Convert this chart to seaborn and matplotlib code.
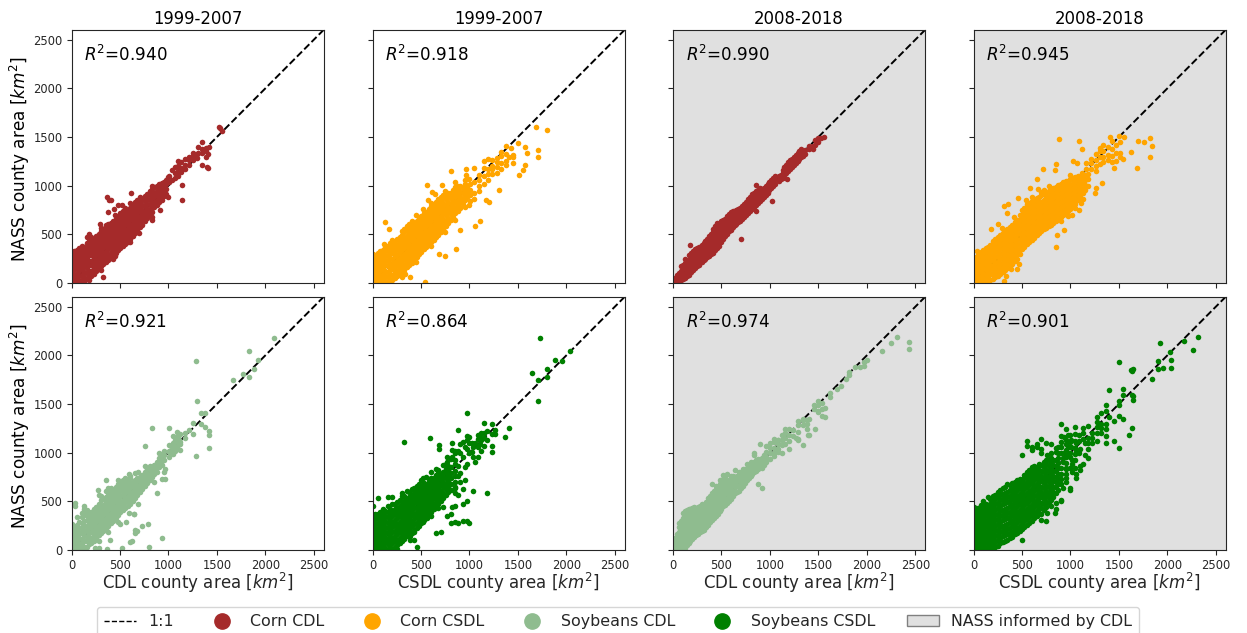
import matplotlib
matplotlib.use("Agg")
import matplotlib.pyplot as plt
from matplotlib.lines import Line2D
from matplotlib.patches import Patch
import pandas as pd
import seaborn as sns

# each entry: (x value, [y values read at that x])
corn_cdl_early = [
(8,[5,55,105,155,205,255,310]),(55,[0,45,95,150,200,250,300,340]),(105,[0,30,85,140,195,250,300,350,385]),
(155,[45,100,150,205,255,310,360,410]),(205,[70,125,180,230,285,340,390,440,470]),(255,[120,175,230,285,335,390,440,480]),
(305,[170,220,275,330,380,435,480,530]),(355,[215,270,320,375,430,480,530,590,600]),(405,[260,310,365,420,470,525,575,620]),
(455,[310,360,415,470,520,570,620,660]),(505,[355,410,460,515,570,620,670,720]),(555,[400,455,510,560,615,665,720,770]),
(605,[450,505,555,610,660,715,770]),(655,[510,565,615,670,720,770,830]),(705,[575,625,680,730,780,830,880]),
(755,[640,690,740,790,840,890]),(805,[700,750,800,850,900,950]),(855,[780,830,880,930,985]),(905,[830,880,930,970,1015]),
(955,[890,940,990,1040]),(1010,[1040,1100]),(1040,[1060,1160]),(1070,[1080,1130,1190]),(1100,[1100,1150,1200,1250]),
(1130,[1140,1185,1240]),(1170,[1170,1215,1270]),(1210,[1210,1260,1300]),(1250,[1260,1310,1340]),(1290,[1280,1330]),
(1300,[1340,1400]),(1350,[1340,1380,1450]),(1390,[1300,1360,1390]),(1346,[1212]),(1397,[1195]),(1405,[1178]),(1410,[1325]),
(1422,[1394]),(1524,[1608]),(1536,[1590]),(1557,[1567]),(371,[882]),(388,[856]),(409,[850]),(325,[65]),(430,[248]),
(1135,[850,1005]),(924,[1015]),(616,[930]),(831,[650]),(916,[754]),(692,[513]),(574,[454]),(376,[730]),(439,[765]),
(291,[610]),(165,[472]),(480,[800]),(520,[800]),
]
corn_cdl_early_core = [
(30,[30,80,130,180,230,280,325]),(80,[20,70,120,175,225,275,320,360]),(130,[15,60,115,170,225,280,330,370]),
(180,[70,125,180,230,285,335,385,430]),(230,[95,150,205,260,310,365,415,455]),(280,[145,200,255,310,360,415,460,505]),
(330,[195,250,300,355,405,455,505,555]),(380,[240,290,345,400,450,505,555,610]),(430,[285,340,390,445,495,550,600,640]),
(480,[335,385,440,495,545,595,645,690]),(530,[380,430,485,540,590,645,695,745]),(580,[425,480,530,585,640,690,745]),
(630,[480,535,585,640,690,745,800]),(680,[540,595,650,700,750,805,855]),(730,[600,655,705,755,805,860]),
(780,[665,715,765,815,865,915]),(830,[725,775,825,875,925,970]),(880,[805,855,905,950,1000]),(930,[855,905,950,995,1030]),
(980,[915,965,1015,1060]),
]
corn_cdl_early_fringe = [(1000,[1090,880]),(830,[680,1000]),(600,[420,820]),(450,[280,700]),(300,[130,570]),(180,[30,500])]
corn_csdl_early = [
(8,[5,55,105,155,205,255,300]),(55,[0,50,100,150,205,255,310]),(105,[0,40,95,150,205,260,310,335]),
(155,[10,60,115,170,225,280,330,385]),(205,[30,85,140,195,250,305,355,410,440]),(255,[70,125,180,235,290,345,395,450]),
(305,[110,170,225,280,335,390,440,495,530]),(355,[160,215,270,325,380,430,485,540,590]),(405,[210,265,320,375,430,480,535,590,635]),
(455,[270,325,380,430,485,540,590,640]),(505,[320,375,430,480,535,590,640,690]),(555,[370,425,480,535,590,640,695,730]),
(605,[420,475,530,585,640,695,750,790]),(655,[470,525,580,635,690,745,800,830]),(705,[520,575,630,685,740,795,850,880]),
(755,[590,640,695,750,805,860,905]),(805,[650,705,760,815,870,925]),(855,[720,775,830,885,940,985]),(905,[775,830,885,940,1000]),
(955,[850,905,960,1020]),(1005,[840,900,960,1020]),(1050,[860,930,1040]),(1100,[950,1000,1060,1110]),(1150,[1020,1100,1180,1250]),
(1190,[1060,1120,1170,1270]),(1230,[1120,1170,1200,1260]),(1280,[1130,1190,1240,1280]),(1330,[1170,1230,1310,1350]),(1380,[1210,1250,1330,1410]),
(1427,[1384]),(1406,[1298]),(1450,[1230,1320,1290]),(1503,[1443]),(1575,[1401,1212]),(1596,[1333]),(1511,[1109]),(1553,[1160]),
(1688,[1608]),(1798,[1570]),(1705,[1367,1298]),(131,[627]),(173,[558]),(118,[403]),(540,[7]),(392,[58]),(566,[1012]),(722,[1012]),
(616,[937]),(646,[919]),(570,[857]),(519,[764]),(810,[1153]),(962,[1171,1109]),(1047,[1184]),(857,[351]),(743,[282]),(688,[300]),
(1106,[633]),(1055,[589]),(899,[541]),(1173,[850]),(1300,[954]),(1200,[830]),(300,[60]),(340,[90]),
]
corn_csdl_early_core = [
(30,[30,80,130,180,230,280]),(80,[25,75,125,175,230,285,325]),(130,[20,70,125,180,235,285,340,370]),
(180,[35,90,145,200,255,310,360,410]),(230,[55,110,165,220,275,330,380,430]),(280,[90,150,205,260,315,370,420,475]),
(330,[135,190,245,300,355,410,465,520,560]),(380,[185,240,295,350,405,455,510,565,610]),(430,[240,295,350,405,455,510,565,615]),
(480,[295,350,405,455,510,565,615,665]),(530,[345,400,455,510,565,615,665,715]),(580,[395,450,505,560,615,670,720,760]),
(630,[445,500,555,610,665,720,775,810]),(680,[495,550,605,660,715,770,825,860]),(730,[550,605,660,715,770,825,880,900]),
(780,[620,670,725,780,835,890,930]),(830,[680,735,790,845,900,955]),(880,[745,800,855,910,965,1000]),(930,[810,865,920,975]),(980,[880,935,990]),
]
corn_csdl_early_fringe = [(1000,[1070,800]),(750,[950,520]),(600,[820,380]),(450,[700,220]),(850,[1040,650]),(950,[1060,780])]
corn_cdl_late = [
(5,[5,40]),(40,[10,55,85]),(85,[30,80,125,170]),(125,[55,100,150,205,245]),(165,[85,135,185,235,285]),(205,[130,175,225,280,330]),
(250,[170,215,265,315,360]),(295,[215,260,310,360,395]),(335,[250,300,350,410,430]),(375,[280,330,385,440,480]),(415,[310,365,420,475,525,560]),
(455,[360,410,465,520,590,615]),(495,[420,470,520,570,640]),(535,[480,525,575,620,660]),(575,[530,570,620,665,705]),(615,[575,620,665,710,740]),
(655,[610,655,700,750]),(695,[640,690,740,775]),(735,[680,725,775,810]),(775,[720,770,820,860]),(815,[760,810,865,910]),(855,[800,850,900,945]),
(895,[845,890,935,975]),(935,[880,930,975]),(975,[930,975,1020]),(1015,[980,1025,1060]),(1050,[1020,1065,1095]),(1090,[1050,1095]),
(1130,[1080,1130,1165]),(1170,[1130,1170,1215]),(1205,[1175,1220,1265]),(1245,[1215,1260,1290]),(1285,[1250,1290,1340]),(1320,[1290,1335,1375]),
(1360,[1325,1370]),(1400,[1380,1410]),(1440,[1375,1410]),(1465,[1420,1465]),(1500,[1450,1490]),(1530,[1490]),(1558,[1498]),
(176,[392]),(701,[454]),(1018,[840]),(1178,[1067]),(600,[540]),(860,[1010,740]),
]
corn_cdl_late_core = [
(20,[20,50]),(60,[25,70,105]),(105,[45,100,145,190]),(145,[75,125,170,220]),(185,[110,160,205,255,305]),(225,[150,200,250,300,345]),
(270,[190,240,290,335,375]),(315,[235,280,330,385,410]),(355,[265,315,365,420,450]),(395,[295,345,400,455,500]),(435,[335,390,445,495,545,590]),
(475,[385,440,495,545,610]),(515,[450,495,545,595,650]),(555,[505,550,600,640,685]),(595,[555,595,640,690,725]),(635,[595,640,685,730]),
(675,[625,670,720,760]),(715,[660,705,755,790]),(755,[700,745,795,835]),(795,[740,790,840,885]),(835,[780,830,880,925]),(875,[825,870,915,960]),
(915,[860,910,955]),(955,[905,950,1000]),(995,[955,1000,1040]),(1035,[1000,1045,1080]),(1110,[1065,1110]),(1150,[1105,1150,1190]),
(1190,[1150,1195,1240]),(1225,[1195,1240,1275]),(1265,[1230,1275,1315]),(1305,[1270,1315,1355]),(1340,[1305,1350]),
]
corn_cdl_late_fringe = []
corn_csdl_late = [
(5,[5,55,105,155,205,235]),(50,[0,50,100,150,200,250,290]),(100,[5,55,105,155,205,255,305,340]),(150,[15,65,115,165,215,265,315,365]),
(200,[40,90,140,190,240,290,340,390,430]),(250,[70,120,170,220,270,320,370,420,470]),(300,[110,160,210,260,310,360,410,460,510]),
(350,[150,200,250,300,350,400,450,500,555]),(400,[200,250,300,350,400,450,500,550,600]),(450,[250,300,350,400,450,500,550,600,650]),
(500,[350,400,450,500,550,600,650,700,750]),(550,[400,450,500,550,600,650,700,750,810]),(600,[440,490,540,590,640,690,740,790,840]),
(650,[490,540,590,640,690,740,790,840,870]),(700,[530,580,630,680,730,780,830,900]),(750,[570,620,670,720,770,820,870,930]),
(800,[600,650,700,750,800,850,900,960]),(850,[640,690,740,790,840,890,940,990]),(900,[680,730,780,830,880,930,980,1020]),(950,[713,765,815,865,915,965,1015,1050]),
(1000,[760,810,860,910,960,1010,1070]),(1050,[810,860,900,950,1000,1050,1090]),(1100,[880,930,980,1030,1080]),(1150,[960,1010,1060,1110]),
(1120,[1130]),(1160,[1170,1230]),(1210,[1170,1230,1270]),(1260,[1150,1200,1260,1330]),(1300,[1220,1290,1360,1390]),(1340,[1240,1300,1360,1420]),
(1390,[1260,1320,1400]),(1430,[1240,1310,1380,1460]),(1470,[1250,1340,1420]),(1510,[1340,1290,1450]),
(884,[1479]),(1084,[1462]),(1120,[1379]),(1404,[1500]),(1504,[1514]),(1552,[1497]),(1700,[1459]),(1760,[1452]),(1820,[1493]),(1840,[1403]),(1824,[1290]),
(1688,[1186]),(1620,[1345]),(1544,[1279]),(1452,[1183]),(856,[1224]),(712,[1169]),(840,[1162]),(1024,[1255]),(1072,[1231]),(652,[1069]),(584,[972]),(664,[969]),
(732,[955]),(464,[876]),(544,[852]),(312,[793]),(356,[807]),(344,[721]),(252,[603]),(292,[566]),(180,[552]),(36,[328]),(852,[369]),(864,[493]),(932,[548]),
(1092,[748]),(1016,[697]),(1324,[1024]),(1252,[921]),(1264,[972]),(312,[17]),(452,[145]),(392,[145]),(332,[76]),
]
corn_csdl_late_core = [
(25,[25,75,125,175,225,265]),(75,[25,75,125,175,225,275,315]),(125,[30,80,130,180,230,280,330,355]),(175,[35,90,140,190,240,290,340,390]),
(225,[65,115,165,215,265,315,365,415,450]),(275,[95,145,195,245,295,345,395,445,490]),(325,[135,185,235,285,335,385,435,485,530]),
(375,[180,230,280,330,380,430,480,530,580]),(425,[230,280,330,380,430,480,530,580,630]),(475,[300,350,400,450,500,550,600,650,700]),
(525,[375,425,475,525,575,625,675,725,775]),(575,[420,470,520,570,620,670,720,770,825]),(625,[465,515,565,615,665,715,765,815,855]),
(675,[510,560,610,660,710,760,810,885]),(725,[550,600,650,700,750,800,850,915]),(775,[585,635,685,735,785,835,885,945]),
(825,[620,670,720,770,820,870,920,975]),(875,[660,710,760,810,860,910,960,1005]),(925,[695,745,795,845,895,945,995,1035]),
(975,[740,790,840,890,940,990,1045]),(1025,[780,830,880,930,980,1030,1080]),(1075,[855,905,955,1005,1055,1100]),(1125,[920,970,1020,1070,1115]),
]
corn_csdl_late_fringe = [(1180,[1000,1070,1120]),(1130,[860]),(980,[690]),(1050,[770]),(1110,[820]),(900,[640]),(1000,[1110]),(780,[1000]),(700,[940]),(600,[880]),(420,[680]),(470,[200])]
soy_cdl_early = [
(8,[5,55,105,155,215,270]),(55,[0,45,100,150,205,260,340]),(105,[10,65,115,170,225,275,335,385]),(155,[35,90,145,200,250,305,360,410]),
(205,[70,125,180,235,290,340,395]),(255,[125,180,235,290,345,395,445]),(305,[175,230,285,335,390,445,510,550]),(355,[220,275,330,385,440,490,545,610]),
(405,[275,330,385,435,490,545,595,640]),(455,[330,385,440,495,545,600,650]),(505,[390,445,495,550,605,650,700]),(555,[430,490,540,590,640,690,740]),
(605,[470,530,585,640,690,740]),(655,[530,580,630,680,720]),(705,[600,650,700,750]),(755,[660,710,760,800,860]),(805,[720,770,820,860]),
(855,[780,830,870]),(905,[850,900,950,1000]),(955,[930,980,1020,800]),(1005,[960,1020,1080,1010]),(1045,[990,1040,1100,1170]),(1085,[1060,1110,1160,1210]),
(1120,[1030,1110,1190,1090]),(1170,[1150,1200]),(1210,[1230]),(1250,[1190,1310]),(1280,[970,1940]),(1295,[1530]),(1340,[1410,1290]),(1375,[1410,1265]),
(1420,[1050,1180,1220]),(1670,[1750]),(1770,[1810]),(1830,[1775,2040]),(1880,[1860]),(1925,[1950]),(2090,[2180]),
(835,[1250]),(760,[1070]),(1010,[1250]),(130,[420,450]),(35,[450,480]),(270,[620]),(360,[720]),(600,[760]),(650,[790]),(400,[100]),(660,[170,210]),(680,[200]),
(730,[250]),(790,[270]),(800,[30]),(930,[120]),(625,[90]),(600,[80]),(520,[25]),(370,[15]),(280,[20]),(240,[25]),(290,[300]),(500,[270]),(560,[290]),(640,[370,370]),
(880,[590]),(930,[730]),(960,[730,830]),(850,[700]),
]
soy_cdl_early_core = [
(30,[30,80,130,180,240]),(80,[20,70,125,175,230,285]),(130,[35,90,140,195,250,300,360,400]),(180,[60,115,170,225,275,330,385]),
(230,[95,150,205,260,315,365,420]),(280,[150,205,260,315,370,420,470]),(330,[195,250,305,360,410,465,520]),(380,[245,300,355,410,465,515,570]),
(430,[300,355,410,460,515,570,620]),(480,[355,410,465,520,575,625,675]),(530,[410,465,515,570,620,670,720]),(580,[450,510,560,610,660,710]),
(630,[500,555,605,655,700]),(680,[565,615,665,715,740]),(730,[630,680,730,775]),(780,[690,735,790,830]),(830,[750,800,845]),(880,[805,855,900]),
(930,[875,925,975]),(1025,[1015,1065]),(1065,[1015,1070,1130]),(1105,[1085,1135,1185]),
]
soy_cdl_early_fringe = [(690,[470,800]),(590,[380,780]),(480,[290,720]),(380,[180,640]),(280,[90,570])]
soy_csdl_early = [
(8,[5,55,105,155,205,260,300,450]),(55,[0,50,105,160,215,270,320,370,530]),(105,[0,50,105,160,215,265,320,375,420]),(155,[0,60,115,170,225,280,335,390,450,540]),
(205,[15,70,125,180,235,290,345,400,470,540]),(255,[50,105,160,215,270,325,380,435,490]),(305,[90,145,200,255,310,365,420,475,550,590]),(355,[140,195,250,305,360,415,470,525,610]),
(405,[190,245,300,355,410,460,515,570,630,170]),(455,[225,280,335,390,445,500,555,610,660]),(505,[280,335,390,445,500,555,610,660,720]),(555,[340,395,450,505,560,615,670,750]),
(605,[390,445,500,555,610,665,720,740]),(655,[440,495,550,605,660,715,770,170]),(705,[500,555,610,665,720,770,190]),(755,[570,625,680,735,790,830,880]),(805,[620,680,735,790,850,940,280,370]),
(855,[640,590,700,760,810,880,1020,290,450]),(885,[570,860,1020,1230,280]),(935,[470,960,1110,630,300]),(975,[1410,1040,1130,500,300]),(1000,[280,1000,1100,1160]),(1040,[610,960,1060]),
(1090,[960,1060,1140,1180]),(1120,[1020,1130,1200]),(1150,[1070,1150,1200,1310]),(1180,[590,1130,1220]),(1230,[1010,1070,1190,1300]),(1260,[1190,1230]),(1370,[1160]),(1405,[1250]),
(325,[1105]),(590,[1150]),(690,[1040,1075]),(825,[1100,1030]),(1650,[1820]),(1710,[1530,1750]),(1725,[2180]),(1800,[1860,1775]),(1880,[1950]),(1950,[1940]),(2040,[2040]),
(180,[0]),(390,[140,100]),(430,[100,180]),(460,[30]),(560,[330]),(250,[15]),
]
soy_csdl_early_core = [
(30,[30,80,130,180,230,280,330,370]),(80,[25,75,130,185,240,295,345,395]),(130,[25,80,135,190,240,295,345,400]),(180,[30,85,140,195,250,305,360,420]),
(230,[35,90,145,200,255,310,365,420,470]),(280,[70,125,180,235,290,345,400,455,510]),(330,[115,170,225,280,335,390,445,500,560]),(380,[165,220,275,330,385,440,490,545,600]),
(430,[210,265,320,375,430,480,535,590,640]),(480,[250,305,360,415,470,525,580,635,680]),(530,[310,365,420,475,530,585,640,690]),(580,[365,420,475,530,585,640,695,730]),
(630,[420,475,530,585,635,690,745]),(680,[470,525,580,635,690,745,790]),(730,[535,590,645,700,755,800]),(780,[595,650,710,765,820,860]),
]
soy_csdl_early_fringe = [(850,[920,1000,650]),(900,[790,700,1000,1090]),(880,[760]),(950,[720,850,1060]),(820,[960,440]),(980,[880,1170]),(1030,[1100,1010]),(1060,[1100,900]),
(1110,[1090,1160]),(770,[900,960,350]),(730,[870,440]),(680,[820,430]),(650,[830]),(600,[800,350]),(520,[740,290])]
soy_cdl_late = [
(5,[5,55,100]),(40,[10,60,110,160]),(80,[0,40,95,150,205,260,295]),(120,[25,80,135,190,245,300,350,400]),(160,[70,125,180,235,290,345,400,420]),
(200,[110,165,220,275,330,385,430]),(240,[150,205,260,315,370,420]),(280,[180,235,290,345,395,450]),(320,[210,265,320,375,420,460]),(360,[260,315,370,420,470,530]),
(400,[310,365,420,475,530,590,680]),(440,[350,405,460,515,570,630,660]),(480,[400,455,510,565,620,680,720]),(520,[450,505,560,615,670,770,730]),(560,[480,535,590,645,700,780]),
(600,[520,575,630,685,745,760]),(640,[590,645,700,755]),(680,[610,665,720,770,800]),(720,[660,715,770,820,830]),(760,[720,775,830,880]),(800,[760,815,870,900]),(840,[800,855,905]),
(880,[830,885,940,680]),(920,[840,895,950,640]),(960,[900,955,1010]),(1000,[940,995,1050,1100]),(1040,[1000,1050,1110,1140,970]),(1080,[1040,1090,1130,1010,1130]),
(1120,[1080,1130,1180,1000]),(1160,[1090,1150,1200,1240]),(1200,[1120,1180,1240,1040]),(1240,[1170,1230]),(1290,[1210,1280,1330,1140,1130]),(1340,[1280,1340,1350]),(1380,[1240,1290,1340]),
(1400,[1180,1350]),(1460,[1240]),(1450,[1490,1450]),(1500,[1430,1530,1490,1420]),(1540,[1380,1450,1510]),(1570,[1370,1460]),(1620,[1570,1610]),(1690,[1650]),(1730,[1690]),(1780,[1760]),(1820,[1830,1800]),
(1880,[1880]),(1930,[1880]),(1970,[1890,1930]),(2000,[1950]),(2160,[2040]),(2250,[2130]),(2310,[2190]),(2430,[2070,2140]),(840,[980]),(840,[1000]),(900,[1090]),(960,[1070]),(635,[820]),
(1340,[1080]),(1270,[1150]),(1390,[1180]),
]
soy_cdl_late_core = [
(20,[25,75,125]),(60,[30,80,130,185,240,280]),(100,[15,65,120,175,230,285,325,380]),(140,[50,105,160,215,270,325,380,415]),(180,[90,145,200,255,310,365,420]),
(220,[130,185,240,295,350,410,440]),(260,[165,220,275,330,385,440]),(300,[195,250,305,360,415,470]),(340,[240,290,345,400,445,490]),(380,[285,340,395,450,500,560]),
(420,[330,385,440,495,550,610]),(460,[375,430,485,540,600,650]),(500,[425,480,535,590,650,700]),(540,[465,520,575,630,685,750]),(580,[500,555,610,665,720]),
(620,[555,610,665,720,760]),(660,[600,655,710,765]),(700,[635,690,745,790]),(740,[690,745,800,830]),(780,[740,795,850]),(820,[780,835,885]),(860,[815,870,920]),(900,[865,920]),(940,[870,925,980]),
]
soy_cdl_late_fringe = []
soy_csdl_late = [
(5,[5,55,105,160,215,270,325,380,440]),(50,[0,55,110,165,220,275,330,385,430]),(100,[0,55,110,165,220,275,330,385,440,500]),(150,[10,65,120,175,230,285,340,395,450,540]),
(200,[5,60,115,170,225,280,335,390,445,500,560]),(250,[45,100,155,210,265,320,375,430,485,540,600]),(300,[85,140,195,250,305,360,415,470,525,580,640]),(350,[105,160,215,270,325,380,435,490,545,600,680]),
(400,[135,190,245,300,355,410,465,520,575,630,690]),(450,[175,230,285,340,395,450,505,560,615,670,720]),(500,[100,215,270,325,380,435,490,545,600,655,710,980]),(550,[260,315,370,425,480,535,590,645,700,755,800,1070,1120]),
(600,[300,355,410,465,520,575,630,685,740,795,850,1060,1030]),(650,[350,405,460,515,570,625,680,735,790,850,1060,1090]),(700,[370,310,430,485,540,595,650,705,760,815,870,1000,1040,1140]),(750,[440,300,495,550,605,660,715,770,825,880,920,1100]),
(800,[510,450,565,620,675,730,785,840,895,950,1090]),(850,[420,590,645,700,755,810,865,920]),(900,[500,510,680,730,785,840,1000,1060,1110,1170,1290]),(950,[780,830,890,960,1030,1090,1130,1240]),(1000,[620,640,840,960,1000,1060,1110,1180]),
(1050,[840,930,990,1050,1120,1190,1260]),(1090,[1000,1120,1180]),(1130,[880,1140,1200,1250]),(1180,[950,1040,1100,1150,1270]),(1220,[1100,1150,1200]),(1270,[1120,1200,1260,1320,1370]),(1320,[1200,1250,1300,1410]),
(1370,[1100,1170,1240,1300,1490,1430]),(1400,[1370,1640]),(1450,[1120,1330]),(1500,[1050,1380,1490,1530,1930]),(1540,[1350,1650,1590]),(1600,[1180]),(1640,[1250,1590,1840]),(1650,[1580,1540]),
(1840,[1760]),(1900,[1940,1860]),(1920,[2130]),(1950,[1870]),(2030,[2030]),(2040,[1870,1950]),(2170,[2150]),(2260,[2060]),(2320,[2190]),(1620,[1850]),(1650,[1860]),
]
soy_csdl_late_core = [
(25,[25,80,135,190,245,300,355,410]),(75,[25,80,135,190,245,300,355,410,460]),(125,[25,80,135,190,245,300,355,410,470]),(175,[35,90,145,200,255,310,365,420,475,520]),
(225,[30,85,140,195,250,305,360,415,470,525,570]),(275,[70,125,180,235,290,345,400,455,510,565,615]),(325,[95,150,205,260,315,370,425,480,535,590,650]),(375,[120,175,230,285,340,395,450,505,560,615,670]),
(425,[160,215,270,325,380,435,490,545,600,655,700]),(475,[195,250,305,360,415,470,525,580,635,690,730]),(525,[240,295,350,405,460,515,570,625,680,735,770]),(575,[280,335,390,445,500,555,610,665,720,775,820]),
(625,[330,385,440,495,550,605,660,715,770,825,860]),(675,[380,435,490,545,600,655,710,765,820,880]),(725,[415,470,525,580,635,690,745,800,855,900]),(775,[480,535,590,645,700,755,810,865,920]),
(825,[540,595,650,705,760,815,870,930]),(875,[620,675,730,785,840,890,950]),
]
soy_csdl_late_fringe = [(920,[640,900,950]),(950,[700,740,840]),(980,[1000]),(1020,[800,880,930]),(1060,[740,780,1010,1100]),(1100,[820,860,1040]),(1150,[980,1100]),(875,[1000,1060]),
(930,[1000,1160]),(970,[1060,1180]),(1010,[1060,1130]),(850,[1010,1050,480]),(800,[1000]),(760,[380,980]),(840,[380])]

panel_series = [corn_cdl_early + corn_cdl_early_core + corn_cdl_early_fringe,
                corn_csdl_early + corn_csdl_early_core + corn_csdl_early_fringe,
                corn_cdl_late + corn_cdl_late_core + corn_cdl_late_fringe,
                corn_csdl_late + corn_csdl_late_core + corn_csdl_late_fringe,
                soy_cdl_early + soy_cdl_early_core + soy_cdl_early_fringe,
                soy_csdl_early + soy_csdl_early_core + soy_csdl_early_fringe,
                soy_cdl_late + soy_cdl_late_core + soy_cdl_late_fringe,
                soy_csdl_late + soy_csdl_late_core + soy_csdl_late_fringe]
panel_titles = ["1999-2007", "1999-2007", "2008-2018", "2008-2018"]
r2_values = ["0.940", "0.918", "0.990", "0.945", "0.921", "0.864", "0.974", "0.901"]
x_labels = ["CDL county area [$km^2$]", "CSDL county area [$km^2$]", "CDL county area [$km^2$]", "CSDL county area [$km^2$]"]
y_label = "NASS county area [$km^2$]"
tick_values = [0, 500, 1000, 1500, 2000, 2500]
one_to_one = [0, 2600]

BROWN, ORANGE, LGREEN, GREEN = "#a52a2a", "#ffa500", "#8fbc8f", "#008000"
colors = [BROWN, ORANGE, BROWN, ORANGE, LGREEN, GREEN, LGREEN, GREEN]
GREY = "#e0e0e0"

sns.set_style("ticks")
W, H = 1247, 633
fig = plt.figure(figsize=(W / 100, H / 100), dpi=100)
lefts = [71.5, 372.5, 673, 973.5]
tops = [30, 297]
aw, ah = 252, 253
TC = "#262626"


def frame(cols):
    return pd.DataFrame([(x, y) for x, ys in cols for y in ys], columns=["x", "y"])


for i in range(8):
    r, c = i // 4, i % 4
    ax = fig.add_axes([lefts[c] / W, 1 - (tops[r] + ah) / H, aw / W, ah / H])
    ax.plot(one_to_one, one_to_one, ls="--", color="k", lw=1.4, zorder=1)
    sns.scatterplot(data=frame(panel_series[i]), x="x", y="y", color=colors[i], s=16,
                    linewidth=0, ax=ax, legend=False, zorder=2)
    ax.set_xlim(0, 2600)
    ax.set_ylim(0, 2600)
    ax.set_xticks(tick_values)
    ax.set_yticks(tick_values)
    ax.tick_params(labelsize=8.3, length=3.5, width=0.8, colors=TC, pad=3)
    for s in ax.spines.values():
        s.set_color(TC)
        s.set_linewidth(0.8)
        s.set_visible(True)
    ax.set_xlabel("")
    ax.set_ylabel("")
    if c >= 2:
        ax.set_facecolor(GREY)
    if r == 0:
        ax.set_title(panel_titles[c], fontsize=11.9, color="k", pad=4.5)
        ax.tick_params(labelbottom=False)
    else:
        ax.set_xlabel(x_labels[c], fontsize=12, color=TC, labelpad=-1)
    if c == 0:
        ax.set_ylabel(y_label, fontsize=12.2, color="k", labelpad=1, y=0.49)
    else:
        ax.tick_params(labelleft=False)
    ax.text(0.05, 0.9, "$R^2$=" + r2_values[i], transform=ax.transAxes, fontsize=12.1, color="k", va="center")

handles = [
    Line2D([], [], ls="--", color="k", lw=1, label="1:1"),
    Line2D([], [], ls="", marker="o", ms=11, color=BROWN, label="Corn CDL"),
    Line2D([], [], ls="", marker="o", ms=11, color=ORANGE, label="Corn CSDL"),
    Line2D([], [], ls="", marker="o", ms=11, color=LGREEN, label="Soybeans CDL"),
    Line2D([], [], ls="", marker="o", ms=11, color=GREEN, label="Soybeans CSDL"),
    Patch(facecolor=GREY, edgecolor="#808080", label="NASS informed by CDL"),
]
leg = fig.legend(handles=handles, ncol=6, loc="upper left", bbox_to_anchor=(97 / W, 1 - 607 / H),
                 borderaxespad=0, fontsize=11.4, frameon=True, columnspacing=2.0, handletextpad=0.8,
                 borderpad=0.45, handlelength=2.0)
fig.savefig("out.png", dpi=100)
